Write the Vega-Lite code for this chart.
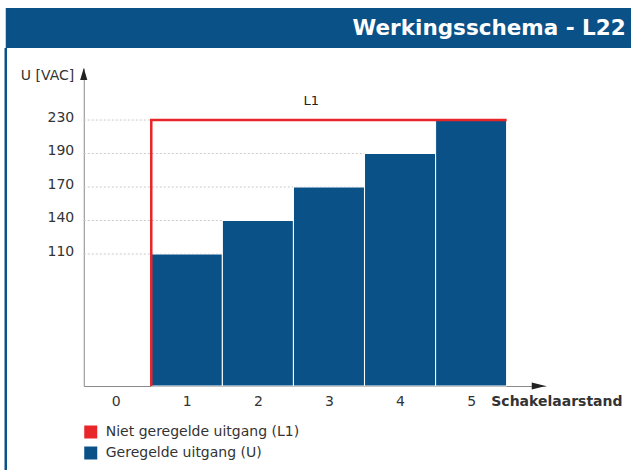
{
  "$schema": "https://vega.github.io/schema/vega-lite/v6.json",
  "background": "white",
  "padding": {"left": 3.75, "top": 8, "right": 0, "bottom": 0},
  "bounds": "flush",
  "spacing": 0,
  "config": {"font": "DejaVu Sans", "view": {"stroke": null}},
  "resolve": {"scale": {"color": "independent"}, "legend": {"color": "independent"}},
  "vconcat": [
    {
      "width": 626,
      "height": 40,
      "view": {"fill": "#0a5188", "stroke": null},
      "title": {
        "text": "Werkingsschema - L22",
        "orient": "bottom",
        "anchor": "end",
        "frame": "group",
        "offset": -30,
        "baseline": "top",
        "dx": -6,
        "fontSize": 21.5,
        "fontWeight": "bold",
        "color": "white",
        "font": "DejaVu Sans"
      },
      "data": {"values": []},
      "mark": "rule",
      "encoding": {}
    },
    {
      "width": 626,
      "height": 422,
      "view": {"fill": "white", "stroke": "#0a5188", "strokeWidth": 2.5, "strokeDash": [0, 1674, 422, 0]},
      "data": {
        "values": [
          {"stand": 1, "U": 110},
          {"stand": 2, "U": 140},
          {"stand": 3, "U": 170},
          {"stand": 4, "U": 190},
          {"stand": 5, "U": 230}
        ]
      },
      "layer": [
        {
          "mark": {"type": "rule", "color": "#c8c8c8", "strokeWidth": 1, "strokeDash": [2, 2]},
          "encoding": {
            "x": {"datum": -0.45, "type": "quantitative"},
            "x2": {"datum": 5.5},
            "y": {"field": "U", "type": "quantitative", "title": "U [VAC]"}
          }
        },
        {
          "mark": {"type": "bar", "width": 71, "stroke": "white", "strokeWidth": 1},
          "encoding": {
            "x": {
              "field": "stand",
              "type": "quantitative",
              "title": "Schakelaarstand",
              "scale": {"domain": [-0.45, 6.05], "range": [78, 540], "nice": false, "zero": false, "padding": 0},
              "axis": {
                "orient": "bottom",
                "offset": -84,
                "values": [0, 1, 2, 3, 4, 5],
                "format": "d",
                "ticks": false,
                "grid": false,
                "domainColor": "#8a8a8a",
                "labelFontSize": 14,
                "labelColor": "#333333",
                "labelPadding": 8,
                "labelFlush": false,
                "labelOverlap": false,
                "titleX": 485,
                "titleY": 8,
                "titleAlign": "left",
                "titleBaseline": "top",
                "titleFontSize": 14,
                "titleFontWeight": "bold",
                "titleColor": "#333333"
              }
            },
            "y": {
              "field": "U",
              "type": "quantitative",
              "title": "U [VAC]",
              "scale": {"domain": [0, 110, 140, 170, 190, 230, 270], "range": [338, 206, 172.5, 139, 105.5, 72, 20], "nice": false, "zero": false},
              "axis": {
                "offset": -78,
                "values": [110, 140, 170, 190, 230],
                "ticks": false,
                "grid": false,
                "domainColor": "#8a8a8a",
                "labelFontSize": 14,
                "labelColor": "#333333",
                "labelPadding": 10,
                "labelBaseline": "alphabetic",
                "labelOffset": 1,
                "labelFlush": false,
                "labelOverlap": false,
                "titleAngle": 0,
                "titleAlign": "right",
                "titleBaseline": "middle",
                "titleX": -10,
                "titleY": 27,
                "titleFontSize": 14,
                "titleFontWeight": "normal",
                "titleColor": "#333333"
              }
            },
            "y2": {"datum": 0},
            "color": {
              "datum": "Geregelde uitgang (U)",
              "scale": {"domain": ["Niet geregelde uitgang (L1)", "Geregelde uitgang (U)"], "range": ["#e8262a", "#0a5188"]},
              "legend": {
                "title": null,
                "orient": "none",
                "legendX": 78,
                "legendY": 377,
                "padding": 0,
                "symbolType": "square",
                "symbolSize": 169,
                "symbolStrokeWidth": 0,
                "labelFontSize": 14,
                "labelColor": "#333333",
                "labelOffset": 8,
                "labelLimit": 400,
                "rowPadding": 7,
                "encode": {"symbols": {"update": {"fill": {"scale": "color", "field": "value"}, "fillOpacity": {"value": 1}, "strokeWidth": {"value": 0}}}}
              }
            }
          }
        },
        {
          "data": {
            "values": [
              {"stand": 0.5, "L1": 0},
              {"stand": 0.5, "L1": 230},
              {"stand": 5.5, "L1": 230}
            ]
          },
          "mark": {"type": "line", "strokeWidth": 2.5},
          "encoding": {
            "x": {"field": "stand", "type": "quantitative", "title": "Schakelaarstand"},
            "y": {"field": "L1", "type": "quantitative", "title": "U [VAC]"},
            "color": {"datum": "Niet geregelde uitgang (L1)"}
          }
        },
        {
          "data": {"values": [{"lijn": "L1"}]},
          "mark": {"type": "text", "fontSize": 13, "color": "#222222", "dy": -19, "baseline": "middle"},
          "encoding": {
            "x": {"datum": 2.75, "type": "quantitative"},
            "y": {"datum": 230, "type": "quantitative"},
            "text": {"field": "lijn"}
          }
        },
        {
          "data": {"values": [{"pijl": "U"}]},
          "mark": {"type": "point", "shape": "M0,0L0.3,1L-0.3,1Z", "size": 576, "filled": true, "color": "#222222", "opacity": 1, "strokeWidth": 0},
          "encoding": {
            "x": {"datum": -0.45, "type": "quantitative"},
            "y": {"datum": 270, "type": "quantitative"}
          }
        },
        {
          "data": {"values": [{"pijl": "stand"}]},
          "mark": {"type": "point", "shape": "M0,0L-1,-0.25L-1,0.25Z", "size": 784, "filled": true, "color": "#222222", "opacity": 1, "strokeWidth": 0},
          "encoding": {
            "x": {"datum": 6.05, "type": "quantitative"},
            "y": {"datum": 0, "type": "quantitative"}
          }
        }
      ]
    }
  ]
}
